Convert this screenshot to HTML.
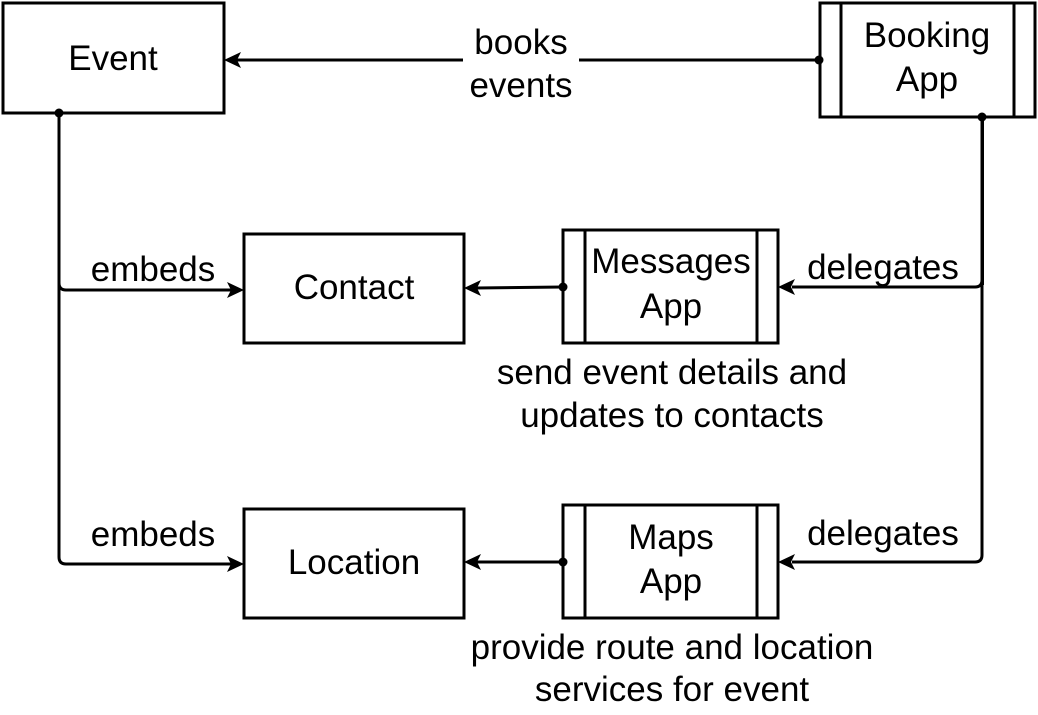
<!DOCTYPE html>
<html><head><style>body{margin:0;background:#fff}svg{display:block}</style></head><body>
<svg width="1038" height="715" viewBox="0 0 1038 715" xmlns="http://www.w3.org/2000/svg" font-family="Liberation Sans, Arial, sans-serif" font-size="35" fill="none" stroke="#000">
<g stroke-width="3">
<rect x="3" y="3" width="221" height="110"/>
<rect x="820" y="3" width="215" height="114"/><line x1="841" y1="3" x2="841" y2="117"/><line x1="1014" y1="3" x2="1014" y2="117"/>
<rect x="244" y="234" width="220" height="109"/>
<rect x="563" y="230" width="215" height="113"/><line x1="585" y1="230" x2="585" y2="343"/><line x1="757" y1="230" x2="757" y2="343"/>
<rect x="244" y="509" width="220" height="109"/>
<rect x="563" y="505" width="215" height="113"/><line x1="585" y1="505" x2="585" y2="618"/><line x1="757" y1="505" x2="757" y2="618"/>
</g>
<g stroke-width="3">
<line x1="819" y1="60" x2="236" y2="60"/>
<path d="M59,113 V557 Q59,564 66,564 H232"/>
<path d="M59,283 Q59,290 66,290 H232"/>
<path d="M982,117 V555 Q982,562 975,562 H792"/>
<line x1="983" y1="117" x2="983" y2="285" stroke-width="2"/>
<path d="M982,280 Q982,287 975,287 H792"/>
<line x1="563" y1="287" x2="476" y2="288"/>
<line x1="563" y1="562" x2="476" y2="562"/>
</g>
<g fill="#000" stroke="none">
<path d="M224,60 l17,-8 l-4,8 l4,8z"/>
<path d="M244,290 l-17,-8 l4,8 l-4,8z"/>
<path d="M244,564 l-17,-8 l4,8 l-4,8z"/>
<path d="M778,287 l17,-8 l-4,8 l4,8z"/>
<path d="M778,562 l17,-8 l-4,8 l4,8z"/>
<path d="M464,288 l17,-8 l-4,8 l4,8z"/>
<path d="M464,562 l17,-8 l-4,8 l4,8z"/>
<circle cx="819" cy="60" r="4.5"/><circle cx="59" cy="113" r="4.5"/><circle cx="982" cy="117" r="4.5"/>
<circle cx="563" cy="287" r="4.5"/><circle cx="563" cy="562" r="4.5"/>
</g>
<g fill="#000" stroke="none" text-anchor="middle">
<text x="113" y="70">Event</text>
<text x="927" y="47">Booking</text><text x="927" y="91">App</text>
<text x="354" y="299">Contact</text>
<text x="671" y="273">Messages</text><text x="671" y="318">App</text>
<text x="354" y="574">Location</text>
<text x="671" y="549">Maps</text><text x="671" y="593">App</text>
<rect x="463" y="25" width="116" height="78" fill="#fff"/>
<text x="521" y="54">books</text><text x="521" y="97">events</text>
<text x="153" y="281">embeds</text>
<text x="153" y="546">embeds</text>
<text x="883" y="279">delegates</text>
<text x="883" y="545">delegates</text>
<text x="672" y="384">send event details and</text><text x="672" y="427">updates to contacts</text>
<text x="672" y="659">provide route and location</text><text x="672" y="701">services for event</text>
</g>
</svg>
</body></html>
